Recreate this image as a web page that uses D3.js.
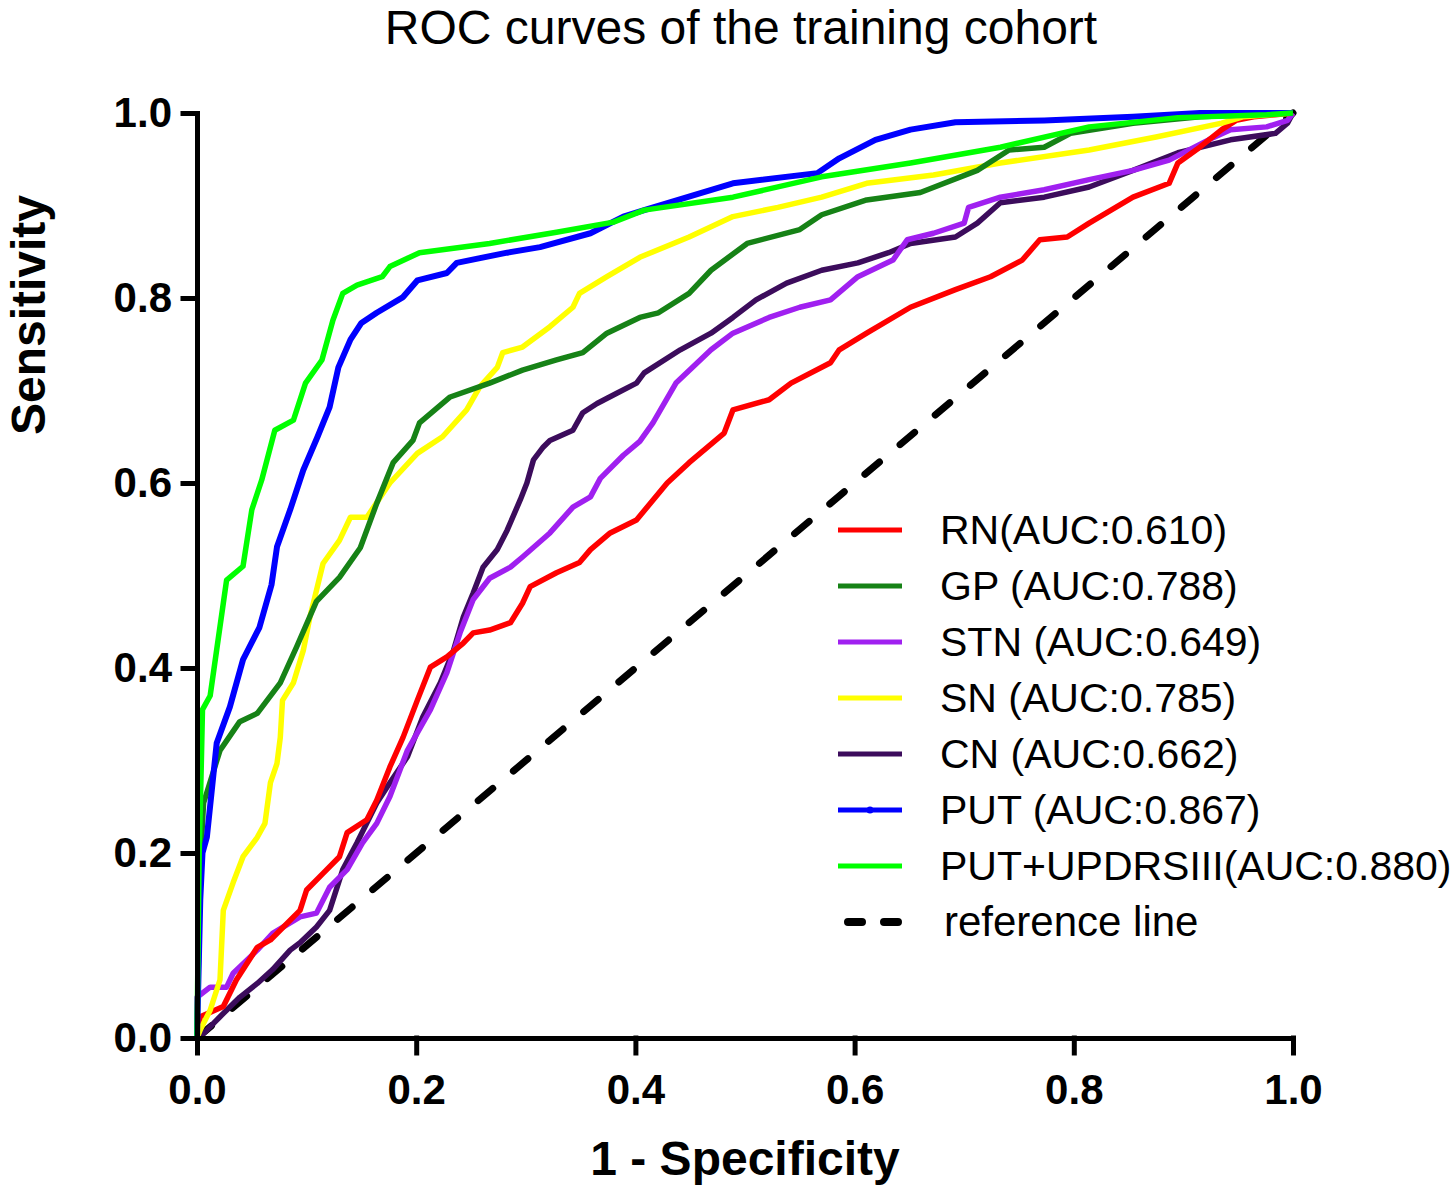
<!DOCTYPE html>
<html>
<head>
<meta charset="utf-8">
<script src="https://cdn.jsdelivr.net/npm/d3@7"></script>
<style>
    body { margin: 0; background: #fff; }
    text { font-family: "Liberation Sans", Arial, sans-serif; }
</style>
</head>
<body>
<div id="chart"></div>
<script>
// ROC points: [1 - specificity, sensitivity]
var rnPoints = [[0,0],[0.003,0.023],[0.024,0.034],[0.036,0.063],[0.055,0.098],[0.067,0.106],[0.094,0.138],[0.1,0.16],[0.115,0.178],[0.13,0.196],[0.137,0.222],[0.155,0.236],[0.164,0.257],[0.176,0.293],[0.188,0.325],[0.201,0.365],[0.213,0.401],[0.228,0.412],[0.243,0.427],[0.252,0.438],[0.267,0.441],[0.286,0.449],[0.297,0.47],[0.304,0.488],[0.328,0.503],[0.349,0.514],[0.359,0.528],[0.377,0.546],[0.401,0.56],[0.429,0.6],[0.449,0.622],[0.481,0.654],[0.489,0.679],[0.522,0.69],[0.542,0.708],[0.578,0.73],[0.586,0.744],[0.611,0.762],[0.651,0.79],[0.692,0.809],[0.724,0.823],[0.753,0.841],[0.769,0.863],[0.794,0.866],[0.814,0.881],[0.834,0.895],[0.854,0.909],[0.887,0.924],[0.895,0.946],[0.915,0.963],[0.935,0.982],[0.948,0.992],[0.964,0.996],[1,1]];
var gpPoints = [[0,0],[0.003,0.19],[0.006,0.254],[0.021,0.311],[0.039,0.342],[0.055,0.351],[0.076,0.384],[0.091,0.423],[0.109,0.472],[0.13,0.498],[0.149,0.53],[0.164,0.578],[0.179,0.622],[0.197,0.646],[0.203,0.665],[0.231,0.693],[0.267,0.708],[0.297,0.722],[0.328,0.733],[0.352,0.741],[0.374,0.762],[0.404,0.779],[0.421,0.784],[0.449,0.805],[0.469,0.83],[0.502,0.859],[0.55,0.874],[0.57,0.89],[0.611,0.906],[0.66,0.914],[0.712,0.938],[0.741,0.96],[0.773,0.963],[0.797,0.978],[0.854,0.989],[0.915,0.996],[1,1]];
var stnPoints = [[0,0],[0,0.044],[0.012,0.055],[0.027,0.055],[0.033,0.07],[0.055,0.095],[0.069,0.113],[0.094,0.131],[0.109,0.135],[0.121,0.163],[0.137,0.182],[0.151,0.211],[0.164,0.232],[0.176,0.261],[0.192,0.311],[0.213,0.355],[0.228,0.395],[0.24,0.438],[0.252,0.474],[0.267,0.497],[0.286,0.509],[0.297,0.52],[0.322,0.546],[0.343,0.574],[0.359,0.585],[0.368,0.605],[0.389,0.63],[0.404,0.645],[0.416,0.665],[0.437,0.708],[0.469,0.744],[0.489,0.762],[0.522,0.779],[0.55,0.79],[0.578,0.798],[0.603,0.823],[0.635,0.841],[0.648,0.863],[0.672,0.87],[0.7,0.881],[0.704,0.898],[0.733,0.909],[0.773,0.917],[0.814,0.928],[0.854,0.938],[0.887,0.949],[0.923,0.971],[0.943,0.982],[0.976,0.985],[0.995,0.992],[1,1]];
var snPoints = [[0,0],[0.003,0.009],[0.012,0.03],[0.021,0.063],[0.024,0.138],[0.033,0.168],[0.042,0.196],[0.055,0.217],[0.062,0.232],[0.067,0.276],[0.073,0.297],[0.076,0.325],[0.078,0.365],[0.088,0.384],[0.097,0.419],[0.103,0.455],[0.109,0.484],[0.115,0.513],[0.13,0.538],[0.14,0.563],[0.155,0.563],[0.176,0.6],[0.201,0.632],[0.224,0.65],[0.246,0.679],[0.258,0.704],[0.274,0.725],[0.279,0.741],[0.297,0.747],[0.322,0.769],[0.343,0.79],[0.349,0.805],[0.374,0.823],[0.404,0.844],[0.449,0.866],[0.489,0.888],[0.53,0.898],[0.57,0.909],[0.611,0.924],[0.672,0.933],[0.733,0.946],[0.814,0.96],[0.875,0.974],[0.935,0.989],[0.955,0.996],[1,1]];
var cnPoints = [[0,0],[0.006,0.005],[0.021,0.023],[0.039,0.044],[0.055,0.059],[0.069,0.074],[0.085,0.095],[0.094,0.103],[0.109,0.12],[0.121,0.138],[0.133,0.182],[0.146,0.211],[0.164,0.254],[0.176,0.276],[0.192,0.304],[0.206,0.347],[0.222,0.384],[0.234,0.419],[0.243,0.455],[0.252,0.481],[0.261,0.509],[0.274,0.528],[0.283,0.549],[0.295,0.582],[0.301,0.6],[0.307,0.625],[0.316,0.639],[0.322,0.646],[0.343,0.657],[0.352,0.676],[0.365,0.686],[0.383,0.697],[0.401,0.708],[0.408,0.719],[0.441,0.744],[0.469,0.762],[0.489,0.779],[0.51,0.798],[0.538,0.816],[0.57,0.83],[0.603,0.838],[0.631,0.849],[0.651,0.859],[0.692,0.866],[0.712,0.881],[0.733,0.903],[0.773,0.909],[0.814,0.92],[0.854,0.938],[0.895,0.957],[0.943,0.971],[0.984,0.978],[0.995,0.989],[1,1]];
var putPoints = [[0,0],[0.003,0.15],[0.005,0.2],[0.009,0.217],[0.018,0.319],[0.03,0.358],[0.042,0.409],[0.057,0.444],[0.068,0.49],[0.073,0.531],[0.085,0.571],[0.097,0.614],[0.11,0.65],[0.121,0.682],[0.129,0.725],[0.14,0.755],[0.15,0.773],[0.164,0.784],[0.188,0.801],[0.201,0.819],[0.228,0.827],[0.237,0.838],[0.283,0.849],[0.313,0.855],[0.359,0.87],[0.389,0.888],[0.408,0.895],[0.489,0.924],[0.566,0.935],[0.586,0.951],[0.619,0.971],[0.651,0.982],[0.692,0.99],[0.773,0.992],[0.854,0.996],[0.915,1],[1,1]];
var putUpdrsPoints = [[0,0],[0.002,0.2],[0.004,0.3],[0.005,0.355],[0.012,0.37],[0.018,0.42],[0.024,0.47],[0.027,0.495],[0.042,0.51],[0.05,0.571],[0.059,0.603],[0.071,0.657],[0.088,0.668],[0.099,0.708],[0.114,0.733],[0.124,0.776],[0.133,0.805],[0.146,0.814],[0.169,0.823],[0.176,0.834],[0.203,0.849],[0.267,0.859],[0.328,0.871],[0.38,0.882],[0.408,0.895],[0.489,0.909],[0.57,0.931],[0.651,0.946],[0.733,0.963],[0.814,0.985],[0.895,0.995],[0.976,0.998],[1,1]];

var seriesNames = ['RN(AUC:0.610)', 'GP (AUC:0.788)', 'STN (AUC:0.649)', 'SN (AUC:0.785)', 'CN (AUC:0.662)', 'PUT (AUC:0.867)', 'PUT+UPDRSIII(AUC:0.880)'];
var seriesPoints = [rnPoints, gpPoints, stnPoints, snPoints, cnPoints, putPoints, putUpdrsPoints];
var seriesColors = ['#ff0000', '#168216', '#a020f0', '#ffff00', '#3c0c5c', '#0000ff', '#00ff00'];
var drawOrder = [4, 2, 0, 3, 1, 5, 6];
var referenceName = 'reference line';
var tickValues = [0, 0.2, 0.4, 0.6, 0.8, 1.0];

var width = 1453, height = 1189;
var svg = d3.select('#chart').append('svg')
    .attr('width', width)
    .attr('height', height);

var x = d3.scaleLinear().domain([0, 1]).range([197, 1293]);
var y = d3.scaleLinear().domain([0, 1]).range([1038, 113]);

var line = d3.line()
    .x(function(d) { return x(d[0]); })
    .y(function(d) { return y(d[1]); });

// title
svg.append('text')
    .attr('x', 741)
    .attr('y', 44)
    .attr('text-anchor', 'middle')
    .attr('font-size', 48)
    .text('ROC curves of the training cohort');

// reference diagonal
svg.append('path')
    .attr('d', line([[0, 0], [1, 1]]))
    .attr('fill', 'none')
    .attr('stroke', 'black')
    .attr('stroke-width', 7)
    .attr('stroke-linecap', 'round')
    .attr('stroke-dasharray', '19,27');

drawOrder.forEach(function(i) {
    svg.append('path')
        .attr('d', line(seriesPoints[i]))
        .attr('fill', 'none')
        .attr('stroke', seriesColors[i])
        .attr('stroke-width', i === 5 ? 6 : 5.5)
        .attr('stroke-linejoin', 'round');
});

// axes
var xAxis = svg.append('g')
    .attr('transform', 'translate(0,' + y(0) + ')')
    .call(d3.axisBottom(x).tickValues(tickValues).tickFormat(d3.format('.1f')).tickSize(15).tickSizeOuter(0).tickPadding(21));
var yAxis = svg.append('g')
    .attr('transform', 'translate(' + x(0) + ',0)')
    .call(d3.axisLeft(y).tickValues(tickValues).tickFormat(d3.format('.1f')).tickSize(14).tickSizeOuter(0).tickPadding(11));

[xAxis, yAxis].forEach(function(a) {
    a.selectAll('path, line')
        .attr('stroke', 'black')
        .attr('stroke-width', 5)
        .attr('stroke-linecap', 'square');
    a.selectAll('text')
        .attr('fill', 'black')
        .attr('font-size', 42)
        .attr('font-weight', 'bold')
        .attr('font-family', '"Liberation Sans", Arial, sans-serif');
});

svg.append('text')
    .attr('x', 745)
    .attr('y', 1175)
    .attr('text-anchor', 'middle')
    .attr('font-size', 48)
    .attr('font-weight', 'bold')
    .text('1 - Specificity');

svg.append('text')
    .attr('transform', 'translate(45,315) rotate(-90)')
    .attr('text-anchor', 'middle')
    .attr('font-size', 48)
    .attr('font-weight', 'bold')
    .text('Sensitivity');

// legend
var legendY = d3.scaleLinear().domain([0, seriesNames.length]).range([530, 922]);
var legend = svg.append('g');

seriesNames.forEach(function(name, i) {
    var ly = legendY(i);
    legend.append('line')
        .attr('x1', 838).attr('x2', 902)
        .attr('y1', ly).attr('y2', ly)
        .attr('stroke', seriesColors[i])
        .attr('stroke-width', 5);
    if (i === 5) {
        legend.append('circle')
            .attr('cx', 870).attr('cy', ly).attr('r', 3.5)
            .attr('fill', seriesColors[i]);
    }
    legend.append('text')
        .attr('x', 940)
        .attr('y', ly + 14)
        .attr('font-size', 41)
        .text(name);
});

var refY = legendY(seriesNames.length);
legend.append('line')
    .attr('x1', 848).attr('x2', 904)
    .attr('y1', refY).attr('y2', refY)
    .attr('stroke', 'black')
    .attr('stroke-width', 8)
    .attr('stroke-linecap', 'round')
    .attr('stroke-dasharray', '14,22');
legend.append('text')
    .attr('x', 944)
    .attr('y', refY + 14)
    .attr('font-size', 42)
    .text(referenceName);
</script>
</body>
</html>
